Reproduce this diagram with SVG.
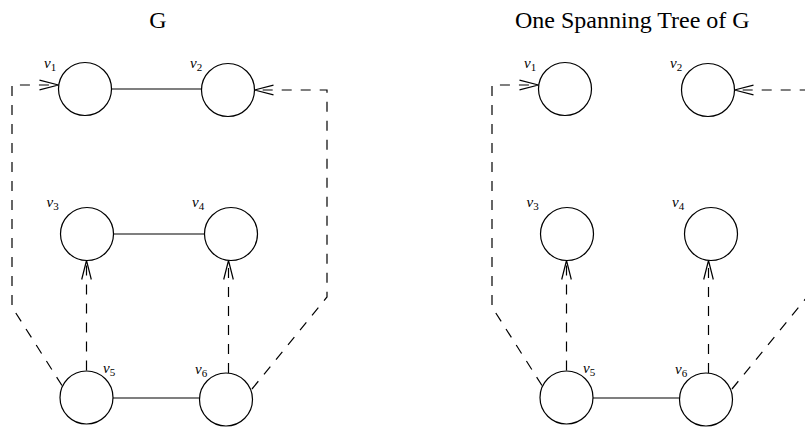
<svg xmlns="http://www.w3.org/2000/svg" width="805" height="429" viewBox="0 0 805 429">
<style>
.node{fill:#fff;stroke:#000;stroke-width:1.2}
.edge{fill:none;stroke:#000;stroke-width:1.2}
.dash{fill:none;stroke:#000;stroke-width:1.2;stroke-dasharray:10 9}
.title{font-family:"Liberation Serif","Times New Roman",serif;font-size:24px;fill:#000}
.lbl{font-family:"Liberation Serif","Times New Roman",serif;font-style:italic;font-size:15px;fill:#000}
.sub{font-style:normal;font-size:11px}
</style>
<defs>
<marker id="arr" markerUnits="userSpaceOnUse" markerWidth="24" markerHeight="14" viewBox="-21 -7 24 14" refX="0" refY="0" orient="auto" overflow="visible">
<path d="M-19,-4.8 L0,0 L-19,4.8" fill="none" stroke="#000" stroke-width="1.2" stroke-dasharray="none"/>
</marker>
</defs>
<rect width="805" height="429" fill="#fff"/>
<text class="title" x="158" y="28" text-anchor="middle">G</text>
<text class="title" x="515" y="28">One Spanning Tree of G</text>
<g id="connectors">
<line class="edge" x1="111.5" y1="89" x2="201.5" y2="89"/>
<line class="edge" x1="113.5" y1="234" x2="204.5" y2="234"/>
<line class="edge" x1="113" y1="398" x2="199.5" y2="398"/>
<path class="dash" d="M62,385.5 L12,307 L12,85 L58.5,85" marker-end="url(#arr)"/>
<path class="dash" d="M252,389 L327,297 L327,90 L254.5,90" marker-end="url(#arr)"/>
<path class="dash" d="M86.5,370.5 L86.5,260.5" marker-end="url(#arr)"/>
<path class="dash" d="M228.5,373 L228.5,260.5" marker-end="url(#arr)"/>
<line class="edge" x1="593" y1="398" x2="679.5" y2="398"/>
<path class="dash" d="M542,385.5 L492,307 L492,85 L538.5,85" marker-end="url(#arr)"/>
<path class="dash" d="M732,389 L807,297 L807,90 L734.5,90" marker-end="url(#arr)"/>
<path class="dash" d="M566.5,370.5 L566.5,260.5" marker-end="url(#arr)"/>
<path class="dash" d="M708.5,373 L708.5,260.5" marker-end="url(#arr)"/>
</g>
<g id="g-v1"><circle class="node" cx="85" cy="89" r="26.5"/><text class="lbl" x="44" y="68">v<tspan class="sub" dy="3">1</tspan></text></g>
<g id="g-v2"><circle class="node" cx="228" cy="90" r="26.5"/><text class="lbl" x="190" y="68">v<tspan class="sub" dy="3">2</tspan></text></g>
<g id="g-v3"><circle class="node" cx="87" cy="234" r="26.5"/><text class="lbl" x="46.5" y="207">v<tspan class="sub" dy="3">3</tspan></text></g>
<g id="g-v4"><circle class="node" cx="231" cy="234" r="26.5"/><text class="lbl" x="192" y="207">v<tspan class="sub" dy="3">4</tspan></text></g>
<g id="g-v5"><circle class="node" cx="86.5" cy="397.5" r="26.5"/><text class="lbl" x="103" y="373">v<tspan class="sub" dy="3">5</tspan></text></g>
<g id="g-v6"><circle class="node" cx="226" cy="399.5" r="26.5"/><text class="lbl" x="195" y="374">v<tspan class="sub" dy="3">6</tspan></text></g>
<g id="t-v1"><circle class="node" cx="565" cy="89" r="26.5"/><text class="lbl" x="524" y="68">v<tspan class="sub" dy="3">1</tspan></text></g>
<g id="t-v2"><circle class="node" cx="708" cy="90" r="26.5"/><text class="lbl" x="670" y="68">v<tspan class="sub" dy="3">2</tspan></text></g>
<g id="t-v3"><circle class="node" cx="567" cy="234" r="26.5"/><text class="lbl" x="526.5" y="207">v<tspan class="sub" dy="3">3</tspan></text></g>
<g id="t-v4"><circle class="node" cx="711" cy="234" r="26.5"/><text class="lbl" x="672" y="207">v<tspan class="sub" dy="3">4</tspan></text></g>
<g id="t-v5"><circle class="node" cx="566.5" cy="397.5" r="26.5"/><text class="lbl" x="583" y="373">v<tspan class="sub" dy="3">5</tspan></text></g>
<g id="t-v6"><circle class="node" cx="706" cy="399.5" r="26.5"/><text class="lbl" x="675" y="374">v<tspan class="sub" dy="3">6</tspan></text></g>
</svg>
